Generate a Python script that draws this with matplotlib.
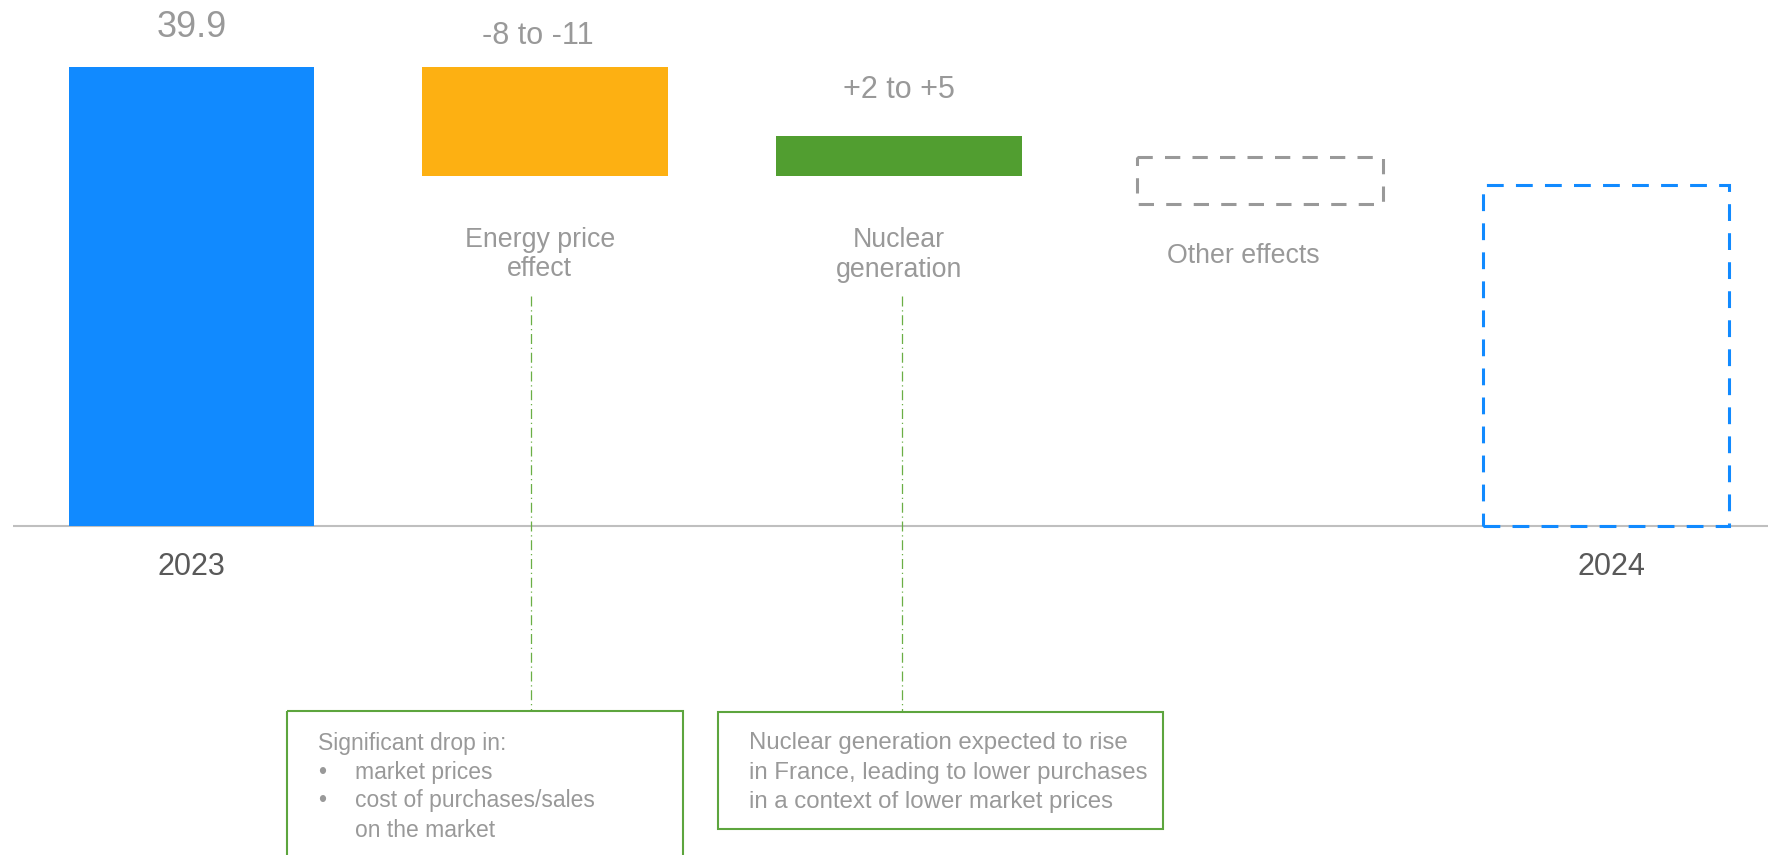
import numpy as np
import matplotlib.pyplot as plt
from matplotlib.patches import Rectangle
from matplotlib.transforms import Affine2D, blended_transform_factory

plt.rcParams['font.family'] = ['Liberation Sans', 'DejaVu Sans']

# data
categories = ["2023", "Energy price\neffect", "Nuclear\ngeneration", "Other effects", "2024"]
start_value = 39.9
energy_effect = -9.5      # range -8 to -11
nuclear_effect = 3.5      # range +2 to +5
other_top = 32.1
other_bottom = 28.0
end_value = 29.6
value_labels = ["39.9", "-8 to -11", "+2 to +5"]

note_energy_head = "Significant drop in:"
note_energy_items = ["market prices", "cost of purchases/sales", "on the market"]
note_energy_bullets = [True, True, False]
note_nuclear = ["Nuclear generation expected to rise",
                "in France, leading to lower purchases",
                "in a context of lower market prices"]

blue = '#118AFF'
orange = '#FDB012'
green = '#519E30'
grey_box = '#999999'
txt_grey = '#999999'
year_grey = '#595959'
note_green = '#5DA53E'

W, H = 1768, 855
X0, DX = 191.5, 353.6     # pixel of first bar centre, pixels per category
Y0, DY = 525.7, 11.496    # pixel of zero line, pixels per unit
bw = 0.695

fig = plt.figure(figsize=(W / 100, H / 100), dpi=100)
ax = fig.add_axes([0, 0, 1, 1])
ax.set_xlim(-X0 / DX, (W - X0) / DX)
ax.set_ylim(-(H - Y0) / DY, Y0 / DY)
ax.axis('off')

pix = Affine2D().scale(1 / W, -1 / H).translate(0, 1) + fig.transFigure
xpix = blended_transform_factory(ax.transData, pix)

# slot positions (the "other effects" slot sits a touch to the right)
x = np.array([0, 1, 2, 3.022, 4])
label_x = np.array([0, 0.985, 2.0, 2.975, 4.015])

# waterfall
ax.bar(x[0], start_value, width=bw, color=blue, zorder=2)
ax.bar(x[1], energy_effect, bottom=start_value, width=bw, color=orange, zorder=2)
ax.bar(x[2], nuclear_effect, bottom=start_value + energy_effect, width=bw,
       color=green, zorder=2)
ax.bar(x[3], other_bottom - other_top, bottom=other_top, width=bw, fill=False,
       edgecolor=grey_box, linewidth=2.2, linestyle=(0, (5, 4)), zorder=2)
ax.bar(x[4], end_value, width=bw, fill=False, edgecolor=blue,
       linewidth=2.2, linestyle=(0, (5.5, 4)), zorder=3)

# zero line
ax.hlines(0, -0.505, ax.get_xlim()[1], color='#bfbfbf', linewidth=1.5, zorder=1)

# value labels above bars
ax.text(label_x[0], 37.3, value_labels[0], transform=xpix, ha='center',
        va='baseline', fontsize=26, color=txt_grey)
ax.text(0.98, 44, value_labels[1], transform=xpix, ha='center',
        va='baseline', fontsize=22, color=txt_grey)
ax.text(label_x[2], 98.3, value_labels[2], transform=xpix, ha='center',
        va='baseline', fontsize=22, color=txt_grey)

# category labels
cat_base = {1: [247, 276], 2: [246.7, 276.7], 3: [263]}
for i, bases in cat_base.items():
    for line, b in zip(categories[i].split('\n'), bases):
        ax.text(label_x[i], b, line, transform=xpix, ha='center', va='baseline',
                fontsize=19.3, color=txt_grey)
for i in (0, 4):
    ax.text(label_x[i], 575, categories[i], transform=xpix, ha='center',
            va='baseline', fontsize=22, color=year_grey)

# connector lines
for cx, top, bot in [(531.3, 296.5, 711), (901.7, 296.5, 711.7)]:
    ax.plot([cx, cx], [top, bot], transform=pix, color='#6AAF45', linewidth=0.9,
            linestyle=(0, (8, 3, 1, 3)), zorder=1)

# note boxes
ax.add_patch(Rectangle((287.3, 711), 396, 170, transform=pix, fill=False,
                       edgecolor=note_green, linewidth=1.5, clip_on=False))
ax.add_patch(Rectangle((717.7, 711.7), 445.6, 117.3, transform=pix, fill=False,
                       edgecolor=note_green, linewidth=1.5))

ax.text(318.3, 749.8, note_energy_head, transform=pix, ha='left', va='baseline',
        fontsize=16.5, color=txt_grey)
for item, bullet, b in zip(note_energy_items, note_energy_bullets, [778.7, 807.3, 836.6]):
    if bullet:
        ax.text(318.3, b, "\u2022", transform=pix, ha='left', va='baseline',
                fontsize=16.5, color=txt_grey)
    ax.text(355, b, item, transform=pix, ha='left', va='baseline',
            fontsize=16.5, color=txt_grey)

for line, b in zip(note_nuclear, [749.3, 779, 808]):
    ax.text(749.3, b, line, transform=pix, ha='left', va='baseline',
            fontsize=17.3, color=txt_grey)

fig.savefig('out.png', dpi=100)
